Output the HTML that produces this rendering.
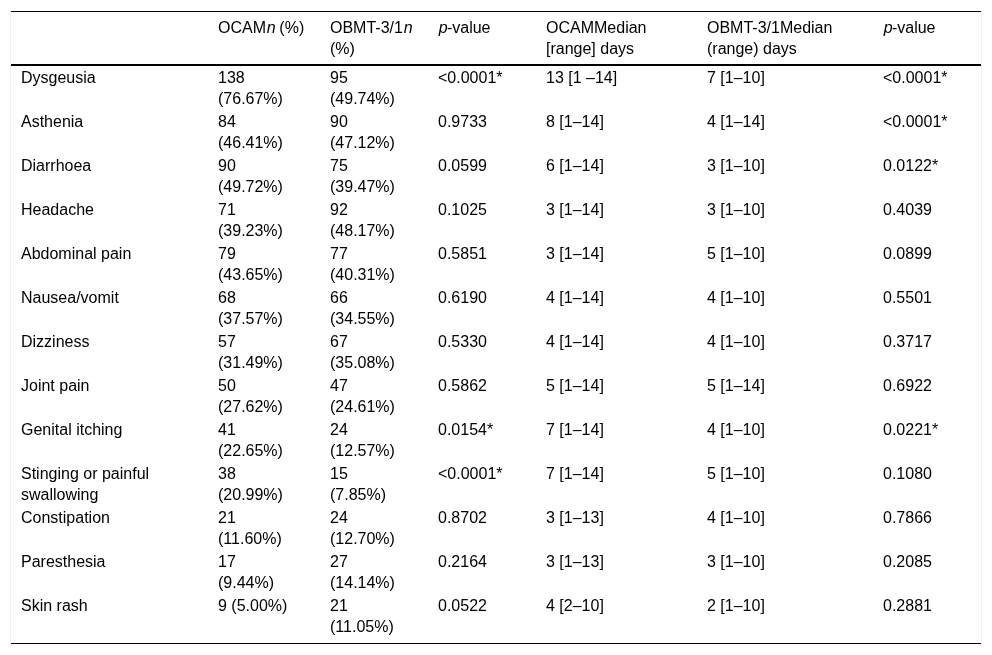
<!DOCTYPE html>
<html><head><meta charset="utf-8">
<style>
html,body{margin:0;padding:0;background:#fff;}
body{width:992px;height:655px;overflow:hidden;font-family:"Liberation Sans",sans-serif;font-size:16px;line-height:21px;color:#000;}
table{will-change:transform;position:absolute;left:11px;top:11px;width:970px;border-collapse:collapse;table-layout:fixed;border-top:1px solid #000;border-bottom:1px solid #000;}
th,td{white-space:nowrap;text-align:left;vertical-align:top;font-weight:normal;padding:0 11px;}
thead th{padding-top:5px;padding-bottom:5px;border-bottom:2px solid #000;}
tbody td{padding-top:1px;padding-bottom:1px;}
tbody tr:last-child td{padding-bottom:6px;}
.sb{position:absolute;top:10px;width:1px;height:635px;background:#efefef;}
i{position:relative;left:0.8px;}
tr>*:nth-child(1){padding-left:10px;}
tr>*:nth-child(6){padding-left:12px;}
</style></head><body>
<div class="sb" style="left:10px"></div><div class="sb" style="left:981px"></div>
<table>
<colgroup><col style="width:196px"><col style="width:112px"><col style="width:108px"><col style="width:108px"><col style="width:160px"><col style="width:177px"><col style="width:109px"></colgroup>
<thead><tr><th></th><th>OCAM<i>n</i> (%)</th><th>OBMT-3/1<i>n</i><br>(%)</th><th><i>p</i>-value</th><th>OCAMMedian<br>[range] days</th><th>OBMT-3/1Median<br>(range) days</th><th><i>p</i>-value</th></tr></thead>
<tbody>
<tr><td>Dysgeusia</td><td>138<br>(76.67%)</td><td>95<br>(49.74%)</td><td>&lt;0.0001*</td><td>13 [1 –14]</td><td>7 [1–10]</td><td>&lt;0.0001*</td></tr>
<tr><td>Asthenia</td><td>84<br>(46.41%)</td><td>90<br>(47.12%)</td><td>0.9733</td><td>8 [1–14]</td><td>4 [1–14]</td><td>&lt;0.0001*</td></tr>
<tr><td>Diarrhoea</td><td>90<br>(49.72%)</td><td>75<br>(39.47%)</td><td>0.0599</td><td>6 [1–14]</td><td>3 [1–10]</td><td>0.0122*</td></tr>
<tr><td>Headache</td><td>71<br>(39.23%)</td><td>92<br>(48.17%)</td><td>0.1025</td><td>3 [1–14]</td><td>3 [1–10]</td><td>0.4039</td></tr>
<tr><td>Abdominal pain</td><td>79<br>(43.65%)</td><td>77<br>(40.31%)</td><td>0.5851</td><td>3 [1–14]</td><td>5 [1–10]</td><td>0.0899</td></tr>
<tr><td>Nausea/vomit</td><td>68<br>(37.57%)</td><td>66<br>(34.55%)</td><td>0.6190</td><td>4 [1–14]</td><td>4 [1–10]</td><td>0.5501</td></tr>
<tr><td>Dizziness</td><td>57<br>(31.49%)</td><td>67<br>(35.08%)</td><td>0.5330</td><td>4 [1–14]</td><td>4 [1–10]</td><td>0.3717</td></tr>
<tr><td>Joint pain</td><td>50<br>(27.62%)</td><td>47<br>(24.61%)</td><td>0.5862</td><td>5 [1–14]</td><td>5 [1–14]</td><td>0.6922</td></tr>
<tr><td>Genital itching</td><td>41<br>(22.65%)</td><td>24<br>(12.57%)</td><td>0.0154*</td><td>7 [1–14]</td><td>4 [1–10]</td><td>0.0221*</td></tr>
<tr><td>Stinging or painful<br>swallowing</td><td>38<br>(20.99%)</td><td>15<br>(7.85%)</td><td>&lt;0.0001*</td><td>7 [1–14]</td><td>5 [1–10]</td><td>0.1080</td></tr>
<tr><td>Constipation</td><td>21<br>(11.60%)</td><td>24<br>(12.70%)</td><td>0.8702</td><td>3 [1–13]</td><td>4 [1–10]</td><td>0.7866</td></tr>
<tr><td>Paresthesia</td><td>17<br>(9.44%)</td><td>27<br>(14.14%)</td><td>0.2164</td><td>3 [1–13]</td><td>3 [1–10]</td><td>0.2085</td></tr>
<tr><td>Skin rash</td><td>9 (5.00%)</td><td>21<br>(11.05%)</td><td>0.0522</td><td>4 [2–10]</td><td>2 [1–10]</td><td>0.2881</td></tr>
</tbody></table>
</body></html>
